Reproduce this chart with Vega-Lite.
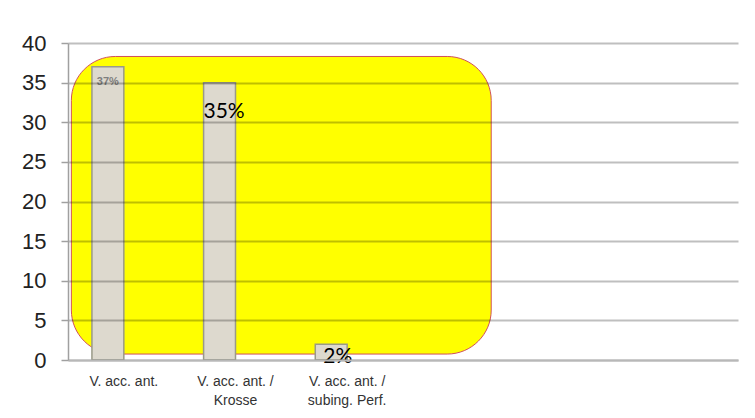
{
  "$schema": "https://vega.github.io/schema/vega-lite/v6.json",
  "width": 670,
  "height": 317,
  "autosize": {"type": "none"},
  "padding": {"left": 68, "top": 43, "right": 17, "bottom": 58},
  "background": "#ffffff",
  "config": {"view": {"stroke": null}, "font": "Liberation Sans"},
  "encoding": {
    "x": {
      "field": "cat", "type": "nominal", "sort": null,
      "scale": {"domain": ["V. acc. ant.", "V. acc. ant. / Krosse", "V. acc. ant. / subing. Perf.", "c4", "c5", "c6"], "paddingInner": 0, "paddingOuter": 0},
      "axis": {
        "title": null, "labelAngle": 0, "ticks": false,
        "labelExpr": "length(datum.value) > 3 ? split(replace(datum.value, ' / ', ' /|'), '|') : ''",
        "labelFontSize": 14, "labelColor": "#333333", "labelLineHeight": 19, "labelPadding": 14,
        "domainColor": "#b8b8b8", "domainWidth": 2
      }
    },
    "y": {
      "field": "value", "type": "quantitative",
      "scale": {"domain": [0, 40], "nice": false},
      "axis": {
        "title": null, "values": [0, 5, 10, 15, 20, 25, 30, 35, 40],
        "grid": true, "gridColor": "#000000", "gridOpacity": 0.25, "gridWidth": 2,
        "domainColor": "#a0a0a0", "domainWidth": 1.5,
        "tickColor": "#a0a0a0", "tickSize": 7, "tickWidth": 1.5,
        "labelFontSize": 22, "labelColor": "#222222", "labelPadding": 15,
        "zindex": 1
      }
    }
  },
  "layer": [
    {
      "data": {"values": [{"from": "V. acc. ant.", "to": "c4", "low": 0.75, "high": 38.3}]},
      "mark": {"type": "rect", "fill": "#ffff00", "stroke": "#d0505a", "strokeWidth": 1, "cornerRadius": 44},
      "encoding": {
        "x": {"field": "from", "type": "nominal", "bandPosition": 0.03},
        "x2": {"field": "to", "bandPosition": 0.79},
        "y": {"field": "low", "type": "quantitative"},
        "y2": {"field": "high"}
      }
    },
    {
      "data": {"values": [
        {"cat": "V. acc. ant.", "series": "s1", "value": 37, "label": "37%"},
        {"cat": "V. acc. ant. / Krosse", "series": "s1", "value": 35, "label": "35%"},
        {"cat": "V. acc. ant. / subing. Perf.", "series": "s1", "value": 2, "label": "2%"}
      ]},
      "encoding": {
        "xOffset": {"field": "series", "type": "nominal", "scale": {"domain": ["s1", "s2"], "paddingInner": 0, "paddingOuter": 0.75}}
      },
      "layer": [
        {"mark": {"type": "bar", "fill": "#ddd9ce", "stroke": "#9a9a88", "strokeWidth": 1.5}},
        {
          "transform": [{"filter": "datum.cat == 'V. acc. ant.'"}],
          "mark": {"type": "text", "fontSize": 11, "fontWeight": "bold", "fill": "#7f7f7f", "baseline": "top", "align": "center", "dy": 9},
          "encoding": {"text": {"field": "label"}}
        },
        {
          "transform": [{"filter": "datum.cat == 'V. acc. ant. / Krosse'"}],
          "mark": {"type": "text", "font": "Lato", "fontSize": 21, "fill": "#000000", "baseline": "alphabetic", "align": "center", "dy": 35, "dx": 4.5},
          "encoding": {"text": {"field": "label"}}
        },
        {
          "transform": [{"filter": "datum.cat == 'V. acc. ant. / subing. Perf.'"}],
          "mark": {"type": "text", "font": "Lato", "fontSize": 21, "fill": "#000000", "baseline": "alphabetic", "align": "center", "dy": 19, "dx": 6.5},
          "encoding": {"text": {"field": "label"}}
        }
      ]
    },
    {
      "data": {"values": [
        {"cat": "V. acc. ant."}, {"cat": "V. acc. ant. / Krosse"}, {"cat": "V. acc. ant. / subing. Perf."},
        {"cat": "c4"}, {"cat": "c5"}, {"cat": "c6"}
      ]},
      "layer": [
        {
          "mark": {"type": "rule", "stroke": "#b0b0b0", "strokeWidth": 1.5},
          "encoding": {
            "x": {"field": "cat", "type": "nominal", "bandPosition": 0},
            "y": {"datum": 0, "type": "quantitative"},
            "y2": {"datum": -0.76}
          }
        },
        {
          "transform": [{"filter": "datum.cat == 'c6'"}],
          "mark": {"type": "rule", "stroke": "#b0b0b0", "strokeWidth": 1.5},
          "encoding": {
            "x": {"field": "cat", "type": "nominal", "bandPosition": 1},
            "y": {"datum": 0, "type": "quantitative"},
            "y2": {"datum": -0.76}
          }
        }
      ]
    }
  ]
}
